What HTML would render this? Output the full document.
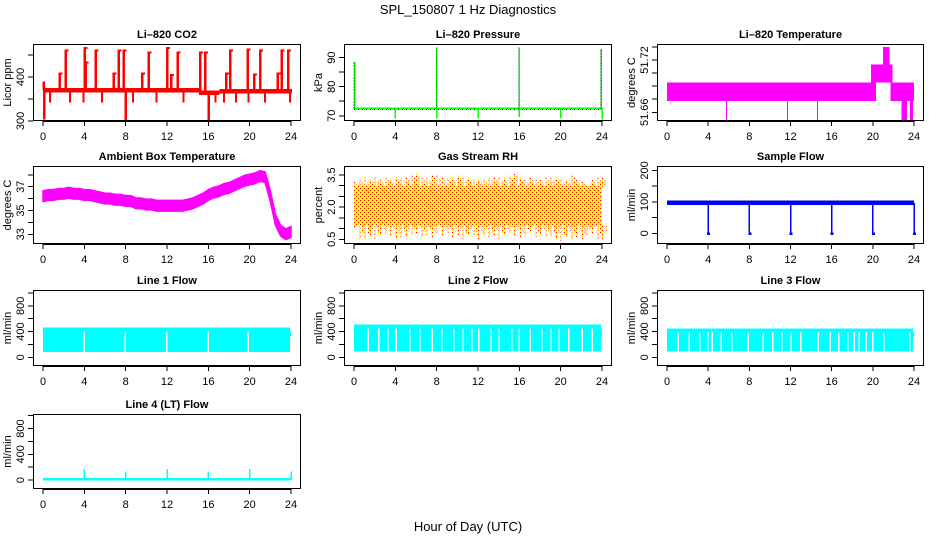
<!DOCTYPE html>
<html><head><meta charset="utf-8"><style>
body{margin:0;background:#fff}
svg{display:block;font-family:"Liberation Sans",sans-serif}
</style></head><body>
<svg id="s" width="936" height="540" xmlns="http://www.w3.org/2000/svg">
<text x="468" y="14" text-anchor="middle" font-size="13">SPL_150807  1 Hz Diagnostics</text>
<text x="468" y="531" text-anchor="middle" font-size="13">Hour of Day (UTC)</text>
</svg>
<script>
const xTicks=[0,4,8,12,16,20,24];
// CO2
const co2Base=[[0,370],[15,370],[15.1,364],[17,364],[17.1,368],[24,368]];
const co2Spikes=[[0.05,390],[0.1,303],[1.6,410],[2.2,462],[4.0,468],[4.1,435],[5.1,462],[6.8,410],[7.3,462],[7.8,462],[8.0,300],[9.6,410],[10.2,458],[12.0,468],[12.4,407],[13.0,458],[15.2,458],[15.7,458],[16.0,300],[17.7,410],[18.1,462],[19.8,465],[20.4,408],[21.0,462],[22.7,410],[23.1,462],[23.7,462]];
const co2Dips=[0.6,2.5,3.8,5.6,7.9,8.6,10.9,13.5,15.9,16.6,17.4,18.6,19.8,21.4,23.8];
// Pressure
const presBase=72.5;
const presSpikes=[[0.05,88.5],[8.0,93.5],[16.0,93.5],[23.95,93]];
const presDips=[[4,69],[8,69],[12,69],[16,69.5],[20,69],[24,68.7]];
// Li-820 temperature blocks [start,end,lo,hi]
const tempBlocks=[[0,20.3,51.673,51.694],[19.8,21.9,51.694,51.715],[21.0,21.6,51.715,51.735],[21.7,24,51.673,51.694],[22.8,23.3,51.65,51.673],[23.6,23.9,51.65,51.673]];
const tempDips=[5.8,11.7,14.6];
// Ambient box temperature (half-hourly centre)
const ambHours=[0,0.5,1,1.5,2,2.5,3,3.5,4,4.5,5,5.5,6,6.5,7,7.5,8,8.5,9,9.5,10,10.5,11,11.5,12,12.5,13,13.5,14,14.5,15,15.5,16,16.5,17,17.5,18,18.5,19,19.5,20,20.5,21,21.5,22,22.5,23,23.5,24];
const ambVals=[36.2,36.3,36.3,36.4,36.4,36.5,36.4,36.4,36.3,36.3,36.2,36.1,36.0,36.0,35.9,35.9,35.8,35.8,35.6,35.6,35.5,35.5,35.4,35.4,35.4,35.4,35.4,35.4,35.5,35.6,35.8,36.0,36.3,36.5,36.6,36.8,36.9,37.1,37.3,37.5,37.6,37.7,37.9,37.8,36.2,34.2,33.3,33.0,33.2];
// RH envelope (half-hourly)
const rhHi=[3.2,3.3,3.4,3.3,3.4,3.3,3.4,3.3,3.4,3.4,3.4,3.5,3.6,3.4,3.4,3.5,3.5,3.4,3.4,3.4,3.5,3.4,3.4,3.3,3.3,3.3,3.4,3.4,3.4,3.4,3.5,3.6,3.4,3.3,3.4,3.3,3.3,3.4,3.4,3.4,3.3,3.3,3.5,3.3,3.2,2.8,3.3,3.4,3.4];
const rhLo=[1.0,0.5,0.5,0.6,0.5,0.7,0.8,0.7,0.5,0.6,0.6,0.7,0.8,0.6,0.7,0.6,0.8,0.7,0.8,0.6,0.7,0.5,0.7,0.6,0.5,0.7,0.6,0.7,0.5,0.7,0.8,0.7,0.6,0.7,0.8,0.6,0.7,0.6,0.6,0.5,0.4,0.6,0.5,0.6,0.5,0.7,0.8,0.5,0.5];
const rhCore=[1.15,3.0];
// Sample flow
const sfBase=97;
const sfDips=[4,8,12,16,20,24];
// Line flows [lo,hi,gaps]
const l1Band=[80,460];
const l1Gaps=[3.9,7.9,11.9,15.9,19.8];
const l2Band=[90,510];
const l2Gaps=[1.3,2.3,3.2,4.0,5.3,6.3,7.5,8.4,9.6,10.5,11.3,12.0,13.2,14.0,15.2,15.9,17.0,18.1,19.0,19.8,20.7,22.0,23.0];
const l3Band=[90,450];
const l3Gaps=[1.0,2.1,3.1,3.9,4.3,5.2,6.2,7.8,9.3,10.2,11.1,12.0,12.9,14.6,15.8,16.6,17.5,18.1,18.6,19.3,19.9,21.0,23.5];
const l4Base=10;
const l4Spikes=[[4,170],[8,130],[12,170],[16,130],[20,170],[24,130]];

const S=document.getElementById('s');
const NS='http://www.w3.org/2000/svg';
function el(tag,attrs,parent){const e=document.createElementNS(NS,tag);for(const k in attrs)e.setAttribute(k,attrs[k]);(parent||S).appendChild(e);return e;}
const cols=[[33,301],[344,612],[657,924]];
const rows=[[44,121],[166,244],[290,366],[414,489]];
function panel(name,c,r,title,ylab,yd,ticks,labels){
  const [x0,x1]=cols[c],[y0,y1]=rows[r];
  const g=el('g',{});
  
  
  const X=v=>x0+10+(x1-x0-20)*v/24;
  const Y=v=>y1-(v-yd[0])/(yd[1]-yd[0])*(y1-y0);
  const t=el('text',{x:(x0+x1)/2,y:y0-6,'text-anchor':'middle','font-size':11,'font-weight':'bold'},g);t.textContent=title;
  
  
  const clip=el('clipPath',{id:'c'+name},g);el('rect',{x:x0,y:y0,width:x1-x0,height:y1-y0},clip);
  const plot=el('g',{'clip-path':'url(#c'+name+')','shape-rendering':'crispEdges'},g);
  
  
  const ax=el('g',{stroke:'#000','stroke-width':1,fill:'none','shape-rendering':'crispEdges'},g);
  
  
  el('rect',{x:x0+0.5,y:y0+0.5,width:x1-x0-1,height:y1-y0-1},ax);
  el('line',{x1:X(0),x2:X(24),y1:y1+0.5,y2:y1+0.5},ax);
  xTicks.forEach(v=>{el('line',{x1:X(v),x2:X(v),y1:y1,y2:y1+5},ax);
    const tl=el('text',{x:X(v),y:y1+19,'text-anchor':'middle','font-size':11},g);tl.textContent=v;
    
    });
  ticks.forEach(v=>{el('line',{x1:x0-5,x2:x0,y1:Y(v),y2:Y(v)},ax);});
  labels.forEach(v=>{const tl=el('text',{x:0,y:0,'text-anchor':'middle','font-size':11,transform:`translate(${x0-9},${Y(v)}) rotate(-90)`},g);tl.textContent=v;
    
    });
  const yl=el('text',{x:0,y:0,'text-anchor':'middle','font-size':11,transform:`translate(${x0-22},${(y0+y1)/2}) rotate(-90)`},g);yl.textContent=ylab;
  
  
  return {X,Y,p:plot};
}
// CO2
(()=>{const {X,Y,p}=panel('co2',0,0,'Li\u2013820 CO2','Licor ppm',[300,475],[300,350,400,450],['300','400']);
 for(let i=0;i<co2Base.length;i+=2){const b=co2Base[i],e=co2Base[i+1];el('rect',{x:X(b[0]),y:Y(b[1]+5),width:X(e[0])-X(b[0])+1,height:Y(b[1]-5)-Y(b[1]+5),fill:'#f00'},p);}
 const baseAt=h=>h<15?370:h<17?364:368;
 co2Spikes.forEach(s=>el('rect',{x:X(s[0])-1,y:Math.min(Y(baseAt(s[0])),Y(s[1])),width:2.5,height:Math.abs(Y(s[1])-Y(baseAt(s[0]))),fill:'#f00'},p));
 co2Spikes.forEach(s=>{if(s[1]>400)el('rect',{x:X(s[0])-1,y:Y(s[1]),width:4,height:2,fill:'#f00'},p);});
 co2Dips.forEach(h=>el('rect',{x:X(h),y:Y(baseAt(h)),width:2,height:Y(342)-Y(baseAt(h)),fill:'#f00'},p));
})();
// Pressure
(()=>{const {X,Y,p}=panel('pressure',1,0,'Li\u2013820 Pressure','kPa',[68.2,94.7],[70,75,80,85,90],['70','80','90']);
 el('line',{x1:X(0),x2:X(24),y1:Y(presBase),y2:Y(presBase),stroke:'#0f0','stroke-width':2},p);
 el('line',{x1:X(0),x2:X(24),y1:Y(presBase-0.3),y2:Y(presBase-0.3),stroke:'#000','stroke-width':1,'stroke-dasharray':'1 3'},p);
 presSpikes.forEach(s=>{el('line',{x1:X(s[0]),x2:X(s[0]),y1:Y(presBase),y2:Y(s[1]),stroke:'#0f0','stroke-width':1.5},p);
  el('line',{x1:X(s[0])-0.5,x2:X(s[0])-0.5,y1:Y(presBase),y2:Y(s[1]),stroke:'#000','stroke-width':0.8,'stroke-dasharray':'1 2'},p);});
 presDips.forEach(s=>el('line',{x1:X(s[0]),x2:X(s[0]),y1:Y(presBase),y2:Y(s[1]),stroke:'#0f0','stroke-width':1.5},p));
})();
// Li-820 temperature
(()=>{const {X,Y,p}=panel('li820-temp',2,0,'Li\u2013820 Temperature','degrees C',[51.65,51.7383],[51.66,51.675,51.69,51.705,51.72,51.735],['51.66','51.72']);
 tempBlocks.forEach(b=>el('rect',{x:X(b[0]),y:Y(b[3]),width:X(b[1])-X(b[0]),height:Y(b[2])-Y(b[3]),fill:'#f0f'},p));
 el('rect',{x:X(20.3),y:Y(51.694),width:X(21.7)-X(20.3),height:Y(51.673)-Y(51.694),fill:'#fff'},p);
 tempDips.forEach(h=>el('line',{x1:X(h),x2:X(h),y1:Y(51.673),y2:Y(51.65),stroke:'#f0f','stroke-width':1},p));
})();
// Ambient
(()=>{const {X,Y,p}=panel('ambient-temp',0,1,'Ambient Box Temperature','degrees C',[32.18,38.74],[33,34,35,36,37,38],['33','35','37']);
 let d='M'+ambHours.map((h,i)=>X(h)+','+Y(ambVals[i]+0.45)).join(' L')+' L'+ambHours.slice().reverse().map((h,i)=>X(h)+','+Y(ambVals[ambVals.length-1-i]-0.45)).join(' L')+'Z';
 el('path',{d,fill:'#f0f',stroke:'#f0f','stroke-width':1.5,'shape-rendering':'auto'},p);
})();
// RH
(()=>{const {X,Y,p}=panel('gas-rh',1,1,'Gas Stream RH','percent',[0.28,3.92],[0.5,1,1.5,2,2.5,3,3.5],['0.5','2.0','3.5']);
 const defs=el('defs',{},p);const pat=el('pattern',{id:'rhp',width:4,height:4,patternUnits:'userSpaceOnUse'},defs);
 el('rect',{width:4,height:4,fill:'#ff0'},pat);el('rect',{x:0,y:0,width:1,height:1,fill:'#f00'},pat);el('rect',{x:2,y:2,width:1,height:1,fill:'#f00'},pat);
 el('rect',{x:X(0),y:Y(rhCore[1]),width:X(24)-X(0),height:Y(rhCore[0])-Y(rhCore[1]),fill:'url(#rhp)'},p);
 rhHi.forEach((v,i)=>{const h=i*0.5;
  el('rect',{x:X(h),y:Y(v),width:1.5,height:Y(rhCore[1])-Y(v)+1,fill:'url(#rhp)'},p);
  el('rect',{x:X(h)+2.5,y:Y(v-0.15),width:1.5,height:Y(rhCore[1])-Y(v-0.15)+1,fill:'url(#rhp)'},p);
  el('rect',{x:X(h),y:Y(rhCore[0])-1,width:1.5,height:Y(rhLo[i])-Y(rhCore[0])+1,fill:'url(#rhp)'},p);
  el('rect',{x:X(h)+3,y:Y(rhCore[0])-1,width:1.5,height:Y(rhLo[i]+0.25)-Y(rhCore[0])+1,fill:'url(#rhp)'},p);});
})();
// Sample flow
(()=>{const {X,Y,p}=panel('sample-flow',2,1,'Sample Flow','ml/min',[-34,214],[0,50,100,150,200],['0','100','200']);
 el('rect',{x:X(0),y:Y(sfBase+7),width:X(24)-X(0),height:Y(sfBase-7)-Y(sfBase+7),fill:'#00f'},p);
 sfDips.forEach(h=>{el('line',{x1:X(h),x2:X(h),y1:Y(sfBase),y2:Y(-5),stroke:'#00f','stroke-width':1.5},p);
  el('rect',{x:X(h)-1,y:Y(3),width:3,height:Y(-5)-Y(3),fill:'#00f'},p);});
})();
// Line flows
function lineFlow(name,c,r,title,band,gaps){const {X,Y,p}=panel(name,c,r,title,'ml/min',[-135,1045],[0,200,400,600,800,1000],['0','400','800']);
 el('rect',{x:X(0),y:Y(band[1]),width:X(23.9)-X(0),height:Y(band[0])-Y(band[1]),fill:'#0ff'},p);
 el('rect',{x:X(23.9),y:Y(band[1]-60),width:X(24)-X(23.9),height:Y(320)-Y(band[1]-60),fill:'#0ff'},p);
 gaps.forEach(h=>el('rect',{x:X(h),y:Y(band[1]-60),width:1.5,height:Y(band[0])-Y(band[1]-60),fill:'#fff'},p));
}
lineFlow('line1-flow',0,2,'Line 1 Flow',l1Band,l1Gaps);
lineFlow('line2-flow',1,2,'Line 2 Flow',l2Band,l2Gaps);
lineFlow('line3-flow',2,2,'Line 3 Flow',l3Band,l3Gaps);
// Line 4
(()=>{const {X,Y,p}=panel('line4-flow',0,3,'Line 4 (LT) Flow','ml/min',[-140,1027],[0,200,400,600,800,1000],['0','400','800']);
 el('rect',{x:X(0),y:Y(l4Base+20),width:X(24)-X(0),height:Y(l4Base-15)-Y(l4Base+20),fill:'#0ff'},p);
 l4Spikes.forEach(s=>el('line',{x1:X(s[0]),x2:X(s[0]),y1:Y(l4Base),y2:Y(s[1]),stroke:'#0ff','stroke-width':1.5},p));
})();
</script>
</body></html>
